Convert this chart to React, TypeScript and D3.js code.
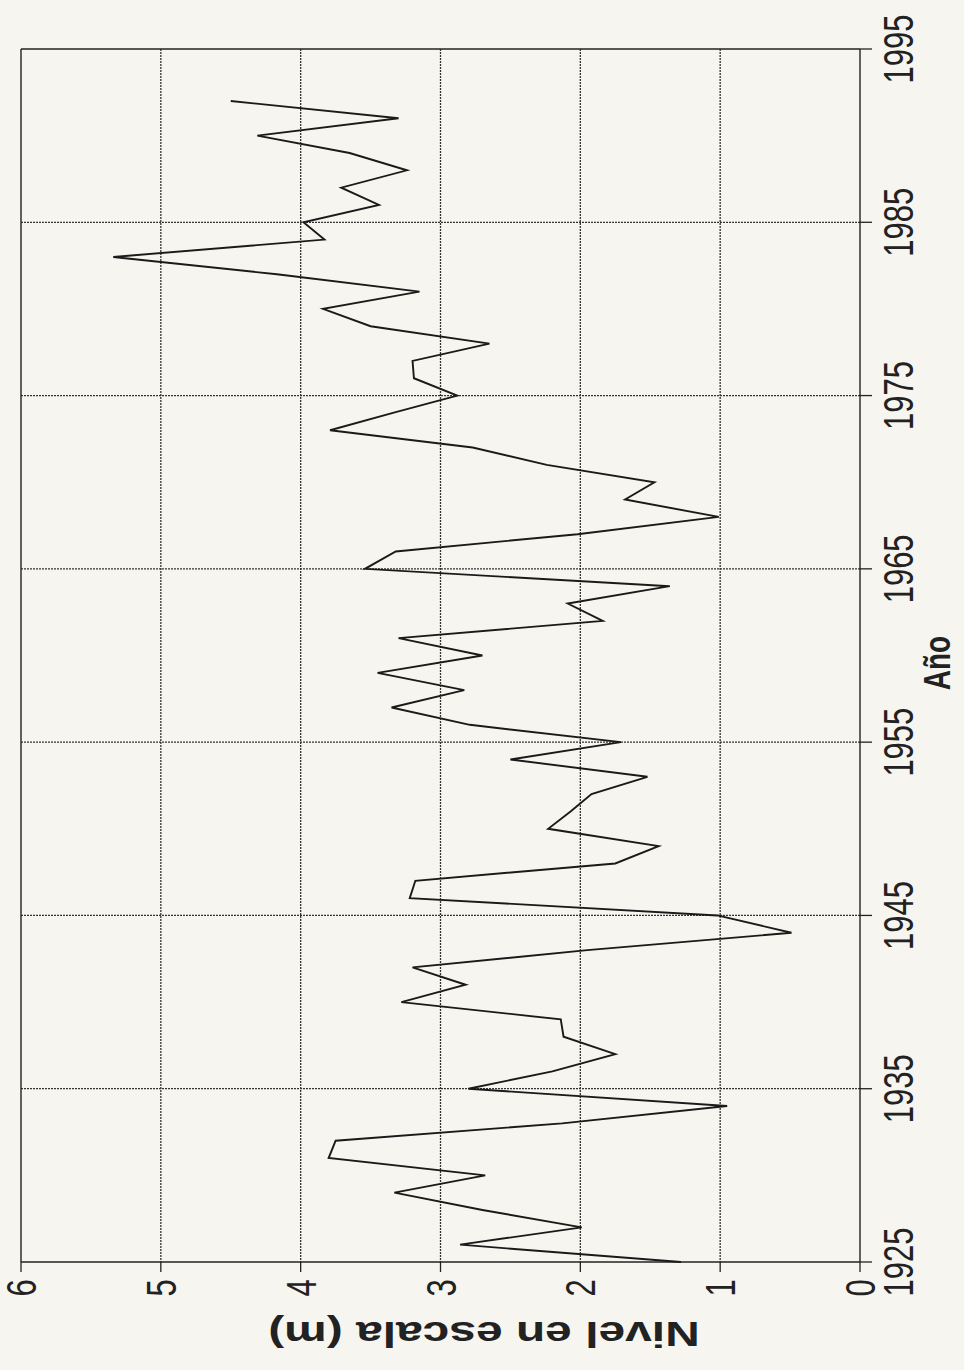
import React, { useEffect } from "react";
import * as d3 from "d3";

const years: number[] = [
  1925, 1926, 1927, 1928, 1929, 1930, 1931, 1932, 1933, 1934,
  1935, 1936, 1937, 1938, 1939, 1940, 1941, 1942, 1943, 1944,
  1945, 1946, 1947, 1948, 1949, 1950, 1951, 1952, 1953, 1954,
  1955, 1956, 1957, 1958, 1959, 1960, 1961, 1962, 1963, 1964,
  1965, 1966, 1967, 1968, 1969, 1970, 1971, 1972, 1973, 1974,
  1975, 1976, 1977, 1978, 1979, 1980, 1981, 1982, 1983, 1984,
  1985, 1986, 1987, 1988, 1989, 1990, 1991, 1992,
];

const nivel: number[] = [
  1.28, 2.86, 1.99, 2.7, 3.33, 2.68, 3.8, 3.75, 2.13, 0.95,
  2.8, 2.2, 1.75, 2.12, 2.14, 3.28, 2.82, 3.2, 1.95, 0.49,
  1.02, 3.22, 3.18, 1.75, 1.44, 2.23, 2.07, 1.92, 1.52, 2.5,
  1.71, 2.79, 3.35, 2.83, 3.45, 2.7, 3.3, 1.84, 2.09, 1.36,
  3.54, 3.32, 2.02, 1.01, 1.68, 1.47, 2.24, 2.77, 3.79, 3.34,
  2.88, 3.19, 3.2, 2.65, 3.5, 3.84, 3.15, 4.17, 5.34, 3.83,
  3.98, 3.44, 3.71, 3.24, 3.65, 4.31, 3.3, 4.5,
];

const yearTicks: number[] = [1925, 1935, 1945, 1955, 1965, 1975, 1985, 1995];
const levelTicks: number[] = [0, 1, 2, 3, 4, 5, 6];

const xTitle = "Año";
const yTitle = "Nivel en escala (m)";

export default function App() {
  useEffect(() => {
    document.body.style.margin = "0";
  }, []);

  const W = 964;
  const H = 1370;
  // rotated chart: years run bottom-to-top, level runs right-to-left
  const yearScale = d3.scaleLinear().domain([1925, 1995]).range([1262, 49]);
  const levelScale = d3.scaleLinear().domain([0, 6]).range([860, 21]);

  const pts = years.map((yr, i) => [levelScale(nivel[i]), yearScale(yr)] as [number, number]);
  const path = d3.line<[number, number]>()(pts) || "";

  const left = levelScale(6);
  const right = levelScale(0);
  const top = yearScale(1995);
  const bottom = yearScale(1925);
  const font = "'Liberation Sans', Arial, Helvetica, sans-serif";
  const stretch = 1.35;

  return (
    <svg width={W} height={H} style={{ display: "block", background: "#f7f5ef" }}>
      <rect x={0} y={0} width={W} height={H} fill="#f7f5ef" />
      {yearTicks.filter((t) => t !== 1925 && t !== 1995).map((t) => (
        <line key={"gy" + t} x1={left} x2={right} y1={yearScale(t)} y2={yearScale(t)}
          stroke="#333" strokeWidth={1.3} strokeDasharray="2,1" />
      ))}
      {levelTicks.filter((t) => t !== 0 && t !== 6).map((t) => (
        <line key={"gl" + t} x1={levelScale(t)} x2={levelScale(t)} y1={top} y2={bottom}
          stroke="#333" strokeWidth={1.3} strokeDasharray="2,1" />
      ))}
      <line x1={left} x2={right} y1={top} y2={top} stroke="#222" strokeWidth={1.4} />
      <line x1={left} x2={left} y1={top} y2={bottom} stroke="#222" strokeWidth={1.4} />
      <line x1={left} x2={right} y1={bottom} y2={bottom} stroke="#222" strokeWidth={1.4} />
      <line x1={right} x2={right} y1={top} y2={bottom} stroke="#222" strokeWidth={1.4} />
      {yearTicks.map((t) => (
        <g key={"ty" + t}>
          <line x1={right} x2={right + 12} y1={yearScale(t)} y2={yearScale(t)} stroke="#222" strokeWidth={1.3} />
          <text
            transform={`translate(${898},${yearScale(t)}) rotate(-90) scale(1,${stretch})`}
            textAnchor="middle" dy="0.36em" fontFamily={font} fontSize={31} fill="#222">
            {t}
          </text>
        </g>
      ))}
      {levelTicks.map((t) => (
        <g key={"tl" + t}>
          <line x1={levelScale(t)} x2={levelScale(t)} y1={bottom} y2={bottom + 10} stroke="#222" strokeWidth={1.3} />
          <text
            transform={`translate(${levelScale(t)},${1288}) rotate(-90) scale(1,${stretch})`}
            textAnchor="middle" dy="0.36em" fontFamily={font} fontSize={31} fill="#222">
            {t}
          </text>
        </g>
      ))}
      <path d={path} fill="none" stroke="#1a1a1a" strokeWidth={1.9} strokeLinejoin="miter" />
      <text
        transform={`translate(${936},${663}) rotate(-90) scale(1,${stretch})`}
        textAnchor="middle" dy="0.36em" fontFamily={font} fontWeight="bold" fontSize={28} fill="#222">
        {xTitle}
      </text>
      <text
        transform={`translate(${484},${1335}) rotate(180) scale(${stretch},1)`}
        textAnchor="middle" dy="0.36em" fontFamily={font} fontWeight="bold" fontSize={35.5} fill="#222">
        {yTitle}
      </text>
    </svg>
  );
}
